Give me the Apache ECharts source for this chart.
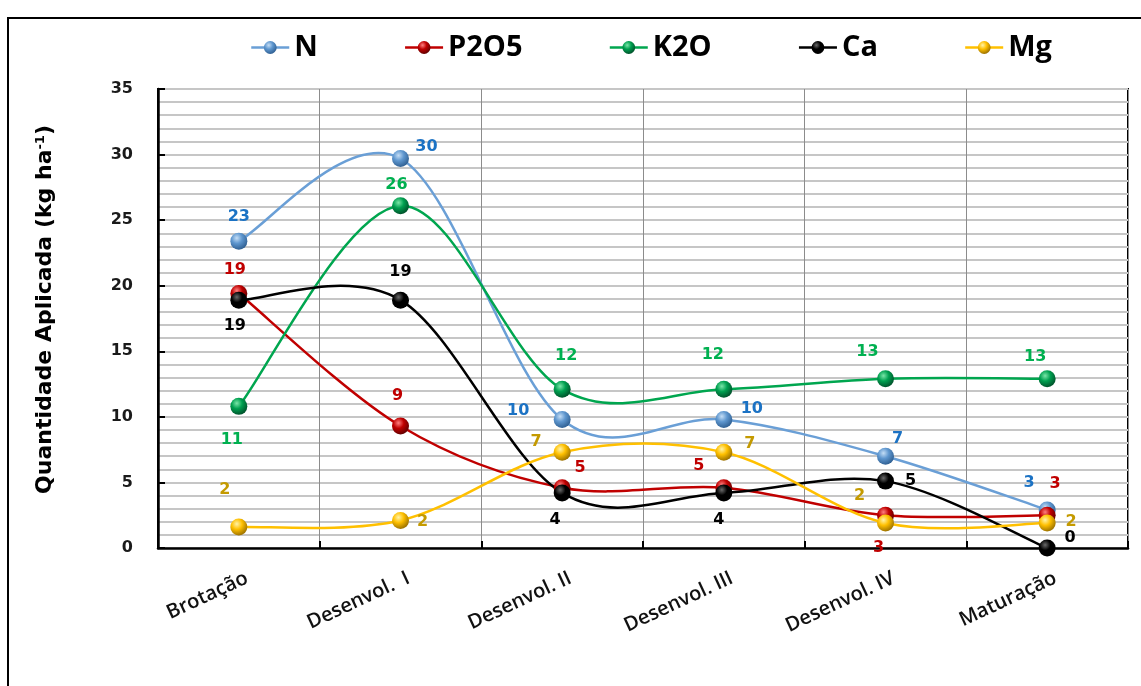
<!DOCTYPE html>
<html>
<head>
<meta charset="utf-8">
<script src="https://cdn.jsdelivr.net/npm/echarts@6/dist/echarts.min.js"></script>
<style>
  html, body { margin: 0; padding: 0; background: #fff; }
  #chart { width: 1141px; height: 686px; }
</style>
</head>
<body>
<div id="chart"></div>
<script>
// Fases do ciclo e quantidades aplicadas (kg ha-1) por nutriente
const stages = ['Brotação', 'Desenvol.  I', 'Desenvol. II', 'Desenvol. III', 'Desenvol. IV', 'Maturação'];
const N    = [23.4, 29.7, 9.8, 9.8, 7.0, 2.9];
const P2O5 = [19.4, 9.3, 4.6, 4.6, 2.5, 2.5];
const K2O  = [10.8, 26.1, 12.1, 12.1, 12.9, 12.9];
const Ca   = [18.9, 18.9, 4.2, 4.2, 5.1, 0.0];
const Mg   = [1.6, 2.1, 7.3, 7.3, 1.9, 1.9];
const yTicks = [0, 5, 10, 15, 20, 25, 30, 35];

// Deslocamento (px) de cada rótulo de valor em relação ao marcador
const labelShift = {
  N:    [[0, -24], [26, -12], [-44, -9], [28, -11], [12, -17], [-18, -27]],
  P2O5: [[-4, -24], [-3, -30], [18, -20], [-25, -22], [-7, 33], [8, -31]],
  K2O:  [[-7, 33], [-4, -21], [4, -33], [-11, -34], [-18, -27], [-12, -22]],
  Ca:   [[-4, 26], [0, -28], [-7, 27], [-5, 27], [25, 0], [23, -10]],
  Mg:   [[-14, -37], [22, 1], [-26, -10], [26, -8], [-26, -27], [24, -1]]
};

function sphere(light, base, dark) {
  return {
    type: 'radial', x: 0.38, y: 0.32, r: 0.7,
    colorStops: [
      { offset: 0, color: light },
      { offset: 0.45, color: base },
      { offset: 1, color: dark }
    ]
  };
}

// Marcadores esféricos e rótulos de valor (a linha fica a cargo da curva suavizada)
function markerSeries(name, values, lineColor, labelColor, ball) {
  return {
    name: name,
    type: 'line',
    z: 3,
    symbol: 'circle',
    symbolSize: 17,
    lineStyle: { color: lineColor, width: 2.5, opacity: 0 },
    itemStyle: { color: ball, borderWidth: 0 },
    data: values.map((v, i) => ({
      value: v,
      label: { offset: labelShift[name][i] }
    })),
    label: {
      show: true,
      position: 'inside',
      color: labelColor,
      fontFamily: 'DejaVu Sans',
      fontWeight: 'bold',
      fontSize: 16,
      formatter: p => Math.round(p.value)
    },
    emphasis: { disabled: true }
  };
}

// Curva suavizada tipo Catmull-Rom entre pontos consecutivos
function curveSeries(name, values, color) {
  const last = values.length - 1;
  return {
    name: name,
    type: 'custom',
    z: 1,
    coordinateSystem: 'cartesian2d',
    data: values.map((v, i) => [i, v]),
    encode: { x: 0, y: 1 },
    silent: true,
    renderItem: function (params, api) {
      const i = params.dataIndex;
      if (i >= last) return null;
      const pt = k => {
        const j = Math.max(0, Math.min(last, k));
        return api.coord([j, values[j]]);
      };
      const p0 = pt(i - 1), p1 = pt(i), p2 = pt(i + 1), p3 = pt(i + 2);
      return {
        type: 'bezierCurve',
        shape: {
          x1: p1[0], y1: p1[1],
          x2: p2[0], y2: p2[1],
          cpx1: p1[0] + (p2[0] - p0[0]) / 6,
          cpy1: p1[1] + (p2[1] - p0[1]) / 6,
          cpx2: p2[0] - (p3[0] - p1[0]) / 6,
          cpy2: p2[1] - (p3[1] - p1[1]) / 6
        },
        style: { stroke: color, lineWidth: 2.5, fill: null }
      };
    }
  };
}

const palette = {
  N:    { line: '#6a9fd6', label: '#1b72c4', ball: sphere('#c4ddf5', '#5f97cf', '#2f5f92') },
  P2O5: { line: '#c00000', label: '#c00000', ball: sphere('#ff8080', '#c00000', '#600000') },
  K2O:  { line: '#00a64f', label: '#00b050', ball: sphere('#7ae6a8', '#00a050', '#00502a') },
  Ca:   { line: '#000000', label: '#000000', ball: sphere('#6a6a6a', '#000000', '#000000') },
  Mg:   { line: '#ffc000', label: '#c49a00', ball: sphere('#fff3a8', '#ffc000', '#9a7000') }
};
const seriesValues = { N: N, P2O5: P2O5, K2O: K2O, Ca: Ca, Mg: Mg };
const names = ['N', 'P2O5', 'K2O', 'Ca', 'Mg'];

const series = [];
names.forEach(n => series.push(markerSeries(n, seriesValues[n], palette[n].line, palette[n].label, palette[n].ball)));
names.forEach(n => series.push(curveSeries(n, seriesValues[n], palette[n].line)));

const chart = echarts.init(document.getElementById('chart'), null, { renderer: 'canvas' });

chart.setOption({
  animation: false,
  backgroundColor: '#ffffff',
  graphic: [{
    type: 'rect',
    shape: { x: 8, y: 18, width: 1300, height: 1000 },
    style: { fill: 'none', stroke: '#000', lineWidth: 2 },
    silent: true,
    z: -10
  }],
  legend: {
    top: 28,
    left: 245,
    itemWidth: 38,
    itemHeight: 16,
    itemGap: 86,
    lineStyle: { opacity: 1, width: 2.5 },
    textStyle: { fontFamily: 'Open Sans', fontWeight: 'bold', fontSize: 29, color: '#000' },
    data: names
  },
  grid: {
    left: 158, right: 13, top: 89, bottom: 138,
    show: true, borderColor: '#000', borderWidth: 2, backgroundColor: 'transparent',
    containLabel: false
  },
  xAxis: {
    type: 'category',
    data: stages,
    boundaryGap: true,
    axisLine: { lineStyle: { color: '#000', width: 2.5 } },
    axisTick: { show: true, inside: true, length: 7, lineStyle: { color: '#000', width: 2 } },
    splitLine: { show: true, lineStyle: { color: '#8c8c8c', width: 1 } },
    axisLabel: {
      rotate: 25,
      margin: 33,
      padding: [0, -9, 0, 0],
      color: '#111',
      fontFamily: 'Open Sans',
      fontWeight: 600,
      fontSize: 20
    }
  },
  yAxis: {
    type: 'value',
    min: yTicks[0],
    max: yTicks[yTicks.length - 1],
    interval: 5,
    name: '{t|Quantidade Aplicada (kg ha}{s|-1}{t|)}',
    nameLocation: 'middle',
    nameGap: 101,
    nameRotate: 90,
    nameTextStyle: {
      padding: [0, 0, 0, 18],
      rich: {
        t: { fontFamily: 'DejaVu Sans', fontWeight: 'bold', fontSize: 22, color: '#000' },
        s: { fontFamily: 'DejaVu Sans', fontWeight: 'bold', fontSize: 13, color: '#000', verticalAlign: 'top', padding: [0, 0, 10, 0] }
      }
    },
    axisLine: { show: true, lineStyle: { color: '#000', width: 2.5 } },
    axisTick: { show: true, inside: true, length: 7, lineStyle: { color: '#000', width: 2 } },
    axisLabel: {
      margin: 25,
      color: '#1a1a1a',
      fontFamily: 'DejaVu Sans',
      fontWeight: 'bold',
      fontSize: 16
    },
    splitLine: { show: true, lineStyle: { color: '#c6c6c6', width: 2 } },
    minorTick: { show: false, splitNumber: 5 },
    minorSplitLine: { show: true, lineStyle: { color: '#c6c6c6', width: 2 } }
  },
  series: series
});
</script>
</body>
</html>
